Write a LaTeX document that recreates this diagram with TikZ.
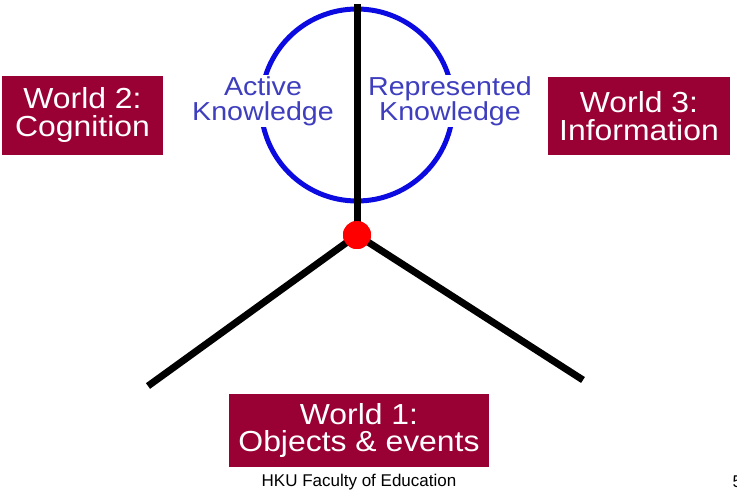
\documentclass[tikz,border=0pt]{standalone}
\usepackage{fontspec}
\setmainfont{Liberation Sans}
\newfontfamily\wideworld[FakeStretch=1.1]{Liberation Sans}
\newfontfamily\wideknow[FakeStretch=1.1]{Liberation Sans}
\usepackage{tikz}
\usetikzlibrary{positioning}
\definecolor{maroon}{RGB}{153,0,51}
\definecolor{knowblue}{RGB}{62,62,190}
\definecolor{ringblue}{RGB}{10,10,225}
\tikzstyle{world}=[rectangle,fill=maroon,text=white,inner sep=0pt,align=center,font=\wideworld\fontsize{29}{28}\selectfont]
\tikzstyle{know}=[fill=white,text=knowblue,inner sep=1pt,align=center,font=\wideknow\fontsize{26}{25}\selectfont]
\tikzstyle{stick}=[line width=7pt,black]

\begin{document}
\begin{tikzpicture}[x=1pt,y=-1pt]
	\useasboundingbox (0,0) rectangle (737,492);
	
	\draw[ringblue,line width=5pt] (357,105) circle (96);
	
	\node [know] (active) at (263,101) {Active\\Knowledge};
	\node [know] (repr) at (450,101) {Represented\\Knowledge};
	
	\node [world, minimum width=161pt, minimum height=79pt] (w2) at (82.5,115.5) {World 2:\\Cognition};
	\node [world, minimum width=182pt, minimum height=78pt] (w3) at (639,116) {World 3:\\Information};
	\node [world, minimum width=260pt, minimum height=73pt, font=\wideworld\fontsize{29}{27}\selectfont] (w1) at (359,430.5) {World 1:\\Objects \& events};
	
	\coordinate (top) at (357,4);
	\coordinate (leftend) at (148,386);
	\coordinate (rightend) at (583,380);
	\node [circle,fill=red,minimum size=28pt,inner sep=0pt] (dot) at (357,235) {};
	
	\draw[stick] (top) -- (dot.center);
	\draw[stick] (dot.center) -- (leftend);
	\draw[stick] (dot.center) -- (rightend);
	\node [circle,fill=red,minimum size=28pt,inner sep=0pt] at (dot) {};
	
	\node [font=\fontsize{17}{17}\selectfont] (footer) at (359,482) {HKU Faculty of Education};
	\node [anchor=west,font=\fontsize{17}{17}\selectfont] (pagenum) at (729,482) {5};
\end{tikzpicture}
\end{document}
